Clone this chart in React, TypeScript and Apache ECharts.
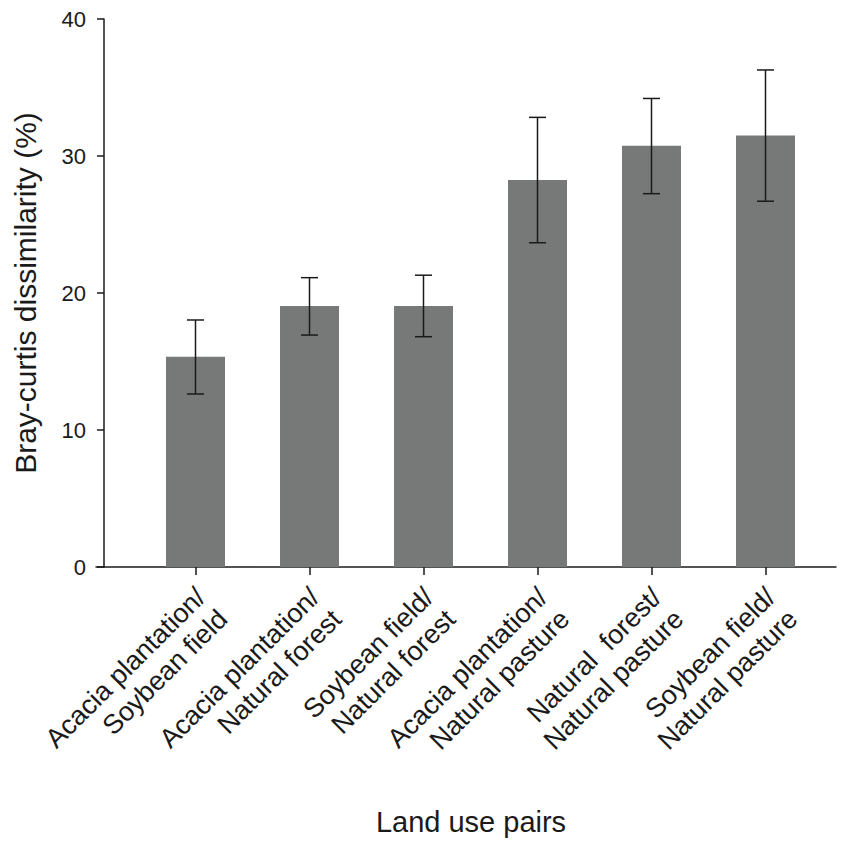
import React, { useEffect, useRef } from "react";
import * as echarts from "echarts";

const categories = [
  "Acacia plantation/\nSoybean field",
  "Acacia plantation/\nNatural forest",
  "Soybean field/\nNatural forest",
  "Acacia plantation/\nNatural pasture",
  "Natural  forest/\nNatural pasture",
  "Soybean field/\nNatural pasture",
];
const means = [15.35, 19.05, 19.05, 28.25, 30.75, 31.5];
const lower = [12.63, 16.93, 16.81, 23.67, 27.25, 26.7];
const upper = [18.03, 21.12, 21.3, 32.82, 34.2, 36.28];
const yTicks = { min: 0, max: 40, interval: 10 };

const FONT = "'Liberation Sans', Arial, sans-serif";
const TXT = "#1a1a1a";

export default function App() {
  const ref = useRef<HTMLDivElement>(null);
  useEffect(() => {
    if (!ref.current) return;
    const chart = echarts.init(ref.current, undefined, { renderer: "svg" });
    const errData = categories.map((_, i) => [i, lower[i], upper[i]]);
    chart.setOption({
      animation: false,
      backgroundColor: "#ffffff",
      textStyle: { fontFamily: FONT },
      grid: [
        { left: 138.5, right: 25.5, top: 19, bottom: 274 },
        { left: 96, right: 12, top: 19, bottom: 274 },
      ],
      xAxis: [
        {
          type: "category",
          gridIndex: 0,
          data: categories,
          axisLine: { show: false },
          axisTick: {
            show: true,
            alignWithLabel: true,
            length: 8,
            lineStyle: { color: TXT, width: 1.5 },
          },
          axisLabel: {
            rotate: 45,
            interval: 0,
            align: "right",
            verticalAlign: "top",
            margin: 9,
            padding: [0, 8, 0, 0],
            fontSize: 27,
            lineHeight: 31,
            color: TXT,
            fontFamily: FONT,
          },
          splitLine: { show: false },
        },
        {
          type: "value",
          gridIndex: 1,
          min: 0,
          max: 1,
          axisLine: { show: true, lineStyle: { color: TXT, width: 1.5 } },
          axisTick: { show: false },
          axisLabel: { show: false },
          splitLine: { show: false },
          name: "Land use pairs",
          nameLocation: "middle",
          nameGap: 240,
          nameTextStyle: { fontSize: 29, color: TXT, fontFamily: FONT, padding: [0, 0, 0, 10] },
        },
      ],
      yAxis: [
        {
          type: "value",
          gridIndex: 0,
          min: yTicks.min,
          max: yTicks.max,
          interval: yTicks.interval,
          offset: 34.5,
          axisLine: { show: true, lineStyle: { color: TXT, width: 1.5 } },
          axisTick: { show: true, length: 7, lineStyle: { color: TXT, width: 1.5 } },
          axisLabel: { fontSize: 22, color: TXT, margin: 18, fontFamily: FONT },
          splitLine: { show: false },
          name: "Bray-curtis dissimilarity (%)",
          nameLocation: "middle",
          nameGap: 64,
          nameTextStyle: { fontSize: 30, color: TXT, fontFamily: FONT },
        },
        {
          type: "value",
          gridIndex: 1,
          min: 0,
          max: 1,
          show: false,
        },
      ],
      series: [
        {
          type: "bar",
          xAxisIndex: 0,
          yAxisIndex: 0,
          data: means,
          barWidth: 59,
          itemStyle: { color: "#767977" },
          z: 2,
        },
        {
          type: "custom",
          xAxisIndex: 0,
          yAxisIndex: 0,
          data: errData,
          z: 5,
          renderItem: (params: any, api: any) => {
            const x = api.value(0);
            const lo = api.coord([x, api.value(1)]);
            const hi = api.coord([x, api.value(2)]);
            const cap = 8.5;
            const style = { stroke: "#1a1a1a", lineWidth: 1.5 };
            return {
              type: "group",
              children: [
                { type: "line", shape: { x1: lo[0], y1: lo[1], x2: hi[0], y2: hi[1] }, style },
                { type: "line", shape: { x1: hi[0] - cap, y1: hi[1], x2: hi[0] + cap, y2: hi[1] }, style },
                { type: "line", shape: { x1: lo[0] - cap, y1: lo[1], x2: lo[0] + cap, y2: lo[1] }, style },
              ],
            };
          },
        },
      ],
    });
    return () => chart.dispose();
  }, []);
  return (
    <div
      ref={ref}
      style={{ position: "fixed", left: 0, top: 0, width: 848, height: 841, background: "#fff" }}
    />
  );
}
